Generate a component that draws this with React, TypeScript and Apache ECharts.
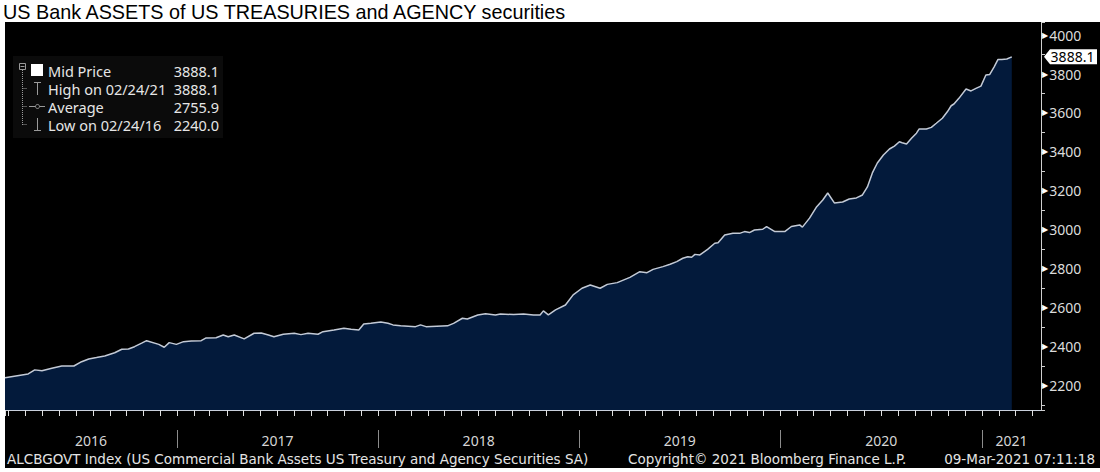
import React, { useEffect, useRef } from "react";
import * as echarts from "echarts";

const TITLE = "US Bank ASSETS of US TREASURIES and AGENCY securities";

const dates: string[] = [
  "2016-02-24", "2016-04-06", "2016-04-18", "2016-05-01", "2016-05-19", "2016-06-06", "2016-06-28",
  "2016-07-12", "2016-07-25", "2016-08-08", "2016-08-23", "2016-09-10", "2016-09-23", "2016-10-05",
  "2016-10-16", "2016-10-29", "2016-11-07", "2016-11-29", "2016-12-09", "2016-12-18", "2016-12-31",
  "2017-01-13", "2017-01-27", "2017-02-14", "2017-02-23", "2017-03-13", "2017-03-26", "2017-04-04",
  "2017-04-15", "2017-05-03", "2017-05-21", "2017-06-03", "2017-06-16", "2017-06-26", "2017-07-13",
  "2017-08-02", "2017-08-14", "2017-08-27", "2017-09-14", "2017-09-23", "2017-10-13", "2017-10-31",
  "2017-11-13", "2017-11-27", "2017-12-06", "2017-12-19", "2018-01-06", "2018-01-19", "2018-01-28",
  "2018-02-11", "2018-03-10", "2018-03-19", "2018-03-29", "2018-05-07", "2018-05-18", "2018-06-03",
  "2018-06-12", "2018-07-01", "2018-07-15", "2018-08-02", "2018-08-11", "2018-09-04", "2018-09-22",
  "2018-10-10", "2018-10-22", "2018-10-28", "2018-11-06", "2018-11-19", "2018-12-07", "2018-12-21",
  "2019-01-06", "2019-01-21", "2019-02-08", "2019-02-21", "2019-03-11", "2019-04-03", "2019-04-21",
  "2019-05-04", "2019-05-15", "2019-06-02", "2019-06-15", "2019-06-27", "2019-07-08", "2019-07-17",
  "2019-07-24", "2019-07-30", "2019-08-08", "2019-08-22", "2019-09-04", "2019-09-10", "2019-09-22",
  "2019-10-07", "2019-10-19", "2019-10-28", "2019-11-06", "2019-11-15", "2019-11-30", "2019-12-07",
  "2019-12-22", "2020-01-09", "2020-01-21", "2020-02-05", "2020-02-10", "2020-02-23", "2020-03-07",
  "2020-03-18", "2020-03-27", "2020-04-08", "2020-04-23", "2020-05-05", "2020-05-18", "2020-05-29",
  "2020-06-07", "2020-06-16", "2020-06-25", "2020-07-06", "2020-07-17", "2020-07-26", "2020-08-04",
  "2020-08-09", "2020-08-17", "2020-08-26", "2020-09-04", "2020-09-09", "2020-09-22", "2020-10-01",
  "2020-10-10", "2020-10-21", "2020-10-30", "2020-11-06", "2020-11-11", "2020-11-20", "2020-12-03",
  "2020-12-12", "2020-12-21", "2020-12-30", "2021-01-08", "2021-01-15", "2021-01-23", "2021-01-30",
  "2021-02-06", "2021-02-15", "2021-02-24",
];

const values: number[] = [
  2240, 2260, 2281, 2277, 2289, 2301, 2301,
  2323, 2337, 2344, 2352, 2369, 2387, 2388,
  2400, 2418, 2431, 2412, 2397, 2421, 2412,
  2426, 2429, 2431, 2445, 2446, 2460, 2451,
  2460, 2440, 2469, 2470, 2460, 2451, 2464,
  2469, 2462, 2469, 2464, 2477, 2486, 2495,
  2489, 2486, 2517, 2520, 2527, 2520, 2512,
  2508, 2503, 2512, 2503, 2507, 2520, 2546,
  2542, 2563, 2569, 2563, 2568, 2565, 2568,
  2563, 2563, 2584, 2563, 2589, 2614, 2666,
  2700, 2717, 2700, 2720, 2729, 2756, 2785,
  2780, 2797, 2811, 2823, 2837, 2854, 2862,
  2859, 2874, 2871, 2900, 2931, 2934, 2974,
  2982, 2982, 2991, 2986, 2999, 3003, 3017,
  2991, 2991, 3017, 3025, 3014, 3060, 3119,
  3153, 3189, 3138, 3143, 3158, 3164, 3179,
  3220, 3292, 3343, 3384, 3415, 3430, 3452,
  3447, 3441, 3470, 3496, 3518, 3518, 3526,
  3547, 3573, 3606, 3637, 3646, 3675, 3723,
  3713, 3726, 3738, 3795, 3798, 3837, 3875,
  3875, 3877, 3888.1,
];

const yearLabels: number[] = [2016, 2017, 2018, 2019, 2020, 2021];
const axisStart = "2016-02-24";
const axisEnd = "2021-04-18";
const yMin = 2075;
const yMax = 4067;
const lastValueLabel = "3888.1";

const legendLabels: string[] = ["Mid Price", "High on 02/24/21", "Average", "Low on 02/24/16"];
const legendValues: string[] = ["3888.1", "3888.1", "2755.9", "2240.0"];

const footerLeft = "ALCBGOVT Index (US Commercial Bank Assets US Treasury and Agency Securities SA)";
const footerMid = "Copyright\u00A9 2021 Bloomberg Finance L.P.";
const footerRight = "09-Mar-2021 07:11:18";

const FONT = "Noto Sans";
const FOOT_FONT = "DejaVu Sans";

export default function App() {
  const ref = useRef<HTMLDivElement>(null);

  useEffect(() => {
    const chart = echarts.init(ref.current!, null, { renderer: "svg" });
    chart.setOption({
      animation: false,
      backgroundColor: "#000",
      textStyle: { fontFamily: FONT },
      grid: { left: 5, right: 59, top: 22, bottom: 62, containLabel: false },
      xAxis: {
        type: "time",
        min: axisStart,
        max: axisEnd,
        z: 5,
        axisLine: { show: true, lineStyle: { color: "#c9d0dc", width: 1 } },
        axisTick: { show: false },
        axisLabel: { show: false },
        splitLine: { show: false },
      },
      yAxis: {
        type: "value",
        position: "right",
        min: yMin,
        max: yMax,
        splitNumber: 20,
        minInterval: 100,
        maxInterval: 100,
        axisLine: { show: true, lineStyle: { color: "#cfcfcf", width: 1 } },
        axisTick: { show: true, inside: false, length: 4, lineStyle: { color: "#cfcfcf", width: 1 } },
        splitLine: { show: false },
        axisLabel: {
          margin: 1,
          formatter: (v: number) => (Math.abs(v % 200) < 1e-6 ? `{t|\u25B6}{v|${v}}` : ""),
          rich: {
            t: { fontSize: 8, color: "#ffffff", fontFamily: "DejaVu Sans", padding: [0, 1, 0, 0] },
            v: { fontSize: 14, color: "#dcdcdc", fontFamily: FONT },
          },
        },
      },
      series: [
        {
          type: "line",
          data: dates.map((d, i) => [d, values[i]]),
          symbol: "none",
          showSymbol: false,
          lineStyle: { color: "#c3cad6", width: 1.5 },
          areaStyle: { color: "#031a3b", opacity: 1, origin: "start" },
          markPoint: {
            silent: true,
            data: [
              {
                coord: [axisEnd, values[values.length - 1]],
                symbol: "path://M0,7.5L6,0L53,0L53,15L6,15Z",
                symbolSize: [53, 15],
                symbolKeepAspect: false,
                symbolOffset: [29.5, 0],
                itemStyle: { color: "#ffffff" },
                label: {
                  show: true,
                  position: "inside",
                  offset: [2, 0],
                  formatter: lastValueLabel,
                  color: "#000",
                  fontSize: 14,
                  fontFamily: FONT,
                },
              },
            ],
          },
        },
      ],
    });

    const px = (t: number) => chart.convertToPixel({ xAxisIndex: 0 }, t) as number;
    const startT = new Date(2016, 1, 24).getTime();
    const endT = new Date(2021, 3, 18).getTime();

    const els: any[] = [];
    els.push({ type: "rect", shape: { x: 0, y: 0, width: 1100, height: 22 }, style: { fill: "#fff" }, z: 20 });
    els.push({ type: "rect", shape: { x: 0, y: 0, width: 5, height: 472 }, style: { fill: "#fff" }, z: 20 });
    els.push({ type: "rect", shape: { x: 0, y: 468, width: 1100, height: 4 }, style: { fill: "#fff" }, z: 20 });
    els.push({
      type: "text", x: 3, y: 12, z: 21,
      style: { text: TITLE, fill: "#000", fontSize: 19.8, fontFamily: "Liberation Sans", align: "left", verticalAlign: "middle" },
    });

    // monthly ticks on the date axis
    const tickX: number[] = [px(startT)];
    for (let y = 2016; y <= 2021; y++) {
      for (let m = 0; m < 12; m++) {
        const t = new Date(y, m, 1).getTime();
        if (t > startT && t < endT) tickX.push(px(t));
      }
    }
    tickX.forEach((x) => {
      const xx = Math.round(x) + 0.5;
      els.push({ type: "line", z: 10, shape: { x1: xx, y1: 410, x2: xx, y2: 416 }, style: { stroke: "#e0e0e0", lineWidth: 1 } });
    });

    // year labels & separators
    yearLabels.forEach((y) => {
      const s = Math.max(new Date(y, 0, 1).getTime(), startT);
      const e = Math.min(new Date(y + 1, 0, 1).getTime(), endT);
      const cx = (px(s) + px(e)) / 2;
      els.push({
        type: "text", x: cx, y: 440, z: 10,
        style: { text: String(y), fill: "#d6d6d6", fontSize: 14, fontFamily: FONT, align: "center", verticalAlign: "middle" },
      });
      const jan = new Date(y, 0, 1).getTime();
      if (jan > startT && jan < endT) {
        const x = Math.round(px(jan)) + 0.5;
        els.push({ type: "line", z: 10, shape: { x1: x, y1: 430, x2: x, y2: 448 }, style: { stroke: "#8c8c8c", lineWidth: 1 } });
      }
    });

    // footer
    els.push({ type: "text", x: 7, y: 459, z: 10, style: { text: footerLeft, fill: "#e4e4e4", fontSize: 13.5, fontFamily: FOOT_FONT, align: "left", verticalAlign: "middle" } });
    els.push({ type: "text", x: 628, y: 459, z: 10, style: { text: footerMid, fill: "#e4e4e4", fontSize: 13.5, fontFamily: FOOT_FONT, align: "left", verticalAlign: "middle" } });
    els.push({ type: "text", x: 1095, y: 459, z: 10, style: { text: footerRight, fill: "#e4e4e4", fontSize: 13.5, fontFamily: FOOT_FONT, align: "right", verticalAlign: "middle" } });

    // legend box
    els.push({ type: "rect", z: 10, shape: { x: 13, y: 56, width: 210, height: 82 }, style: { fill: "#0b0b0b" } });
    const rowY = [70.5, 88.5, 106.5, 124.5];
    legendLabels.forEach((lab, i) => {
      els.push({ type: "text", x: 48, y: rowY[i], z: 11, style: { text: lab, fill: "#e6e6e6", fontSize: 14.5, fontFamily: FONT, align: "left", verticalAlign: "middle" } });
      els.push({ type: "text", x: 219, y: rowY[i], z: 11, style: { text: legendValues[i], fill: "#e6e6e6", fontSize: 14.5, fontFamily: FONT, align: "right", verticalAlign: "middle" } });
    });
    const g = "#9a9a9a";
    els.push({ type: "rect", z: 11, shape: { x: 19.5, y: 63.5, width: 6, height: 6 }, style: { fill: "none", stroke: g, lineWidth: 1 } });
    els.push({ type: "line", z: 11, shape: { x1: 20.5, y1: 66.5, x2: 24.5, y2: 66.5 }, style: { stroke: g, lineWidth: 1 } });
    els.push({ type: "line", z: 11, shape: { x1: 22.5, y1: 70, x2: 22.5, y2: 125 }, style: { stroke: g, lineWidth: 1, lineDash: [1, 1] } });
    [88.5, 106.5, 124.5].forEach((y) => {
      els.push({ type: "line", z: 11, shape: { x1: 22.5, y1: y, x2: 27, y2: y }, style: { stroke: g, lineWidth: 1, lineDash: [1, 1] } });
    });
    els.push({ type: "rect", z: 11, shape: { x: 31, y: 64, width: 12, height: 12 }, style: { fill: "#ffffff" } });
    els.push({ type: "line", z: 11, shape: { x1: 37.5, y1: 82.5, x2: 37.5, y2: 95 }, style: { stroke: g, lineWidth: 1 } });
    els.push({ type: "line", z: 11, shape: { x1: 34, y1: 82.5, x2: 41, y2: 82.5 }, style: { stroke: g, lineWidth: 1 } });
    els.push({ type: "line", z: 11, shape: { x1: 29, y1: 106.5, x2: 45, y2: 106.5 }, style: { stroke: g, lineWidth: 1 } });
    els.push({ type: "circle", z: 11, shape: { cx: 37.5, cy: 106.5, r: 2 }, style: { fill: "#0b0b0b", stroke: g, lineWidth: 1 } });
    els.push({ type: "line", z: 11, shape: { x1: 37.5, y1: 118, x2: 37.5, y2: 130.5 }, style: { stroke: g, lineWidth: 1 } });
    els.push({ type: "line", z: 11, shape: { x1: 34, y1: 130.5, x2: 41, y2: 130.5 }, style: { stroke: g, lineWidth: 1 } });

    chart.setOption({ graphic: { elements: els } });

    return () => chart.dispose();
  }, []);

  return <div ref={ref} style={{ position: "absolute", left: 0, top: 0, width: 1100, height: 472 }} />;
}
